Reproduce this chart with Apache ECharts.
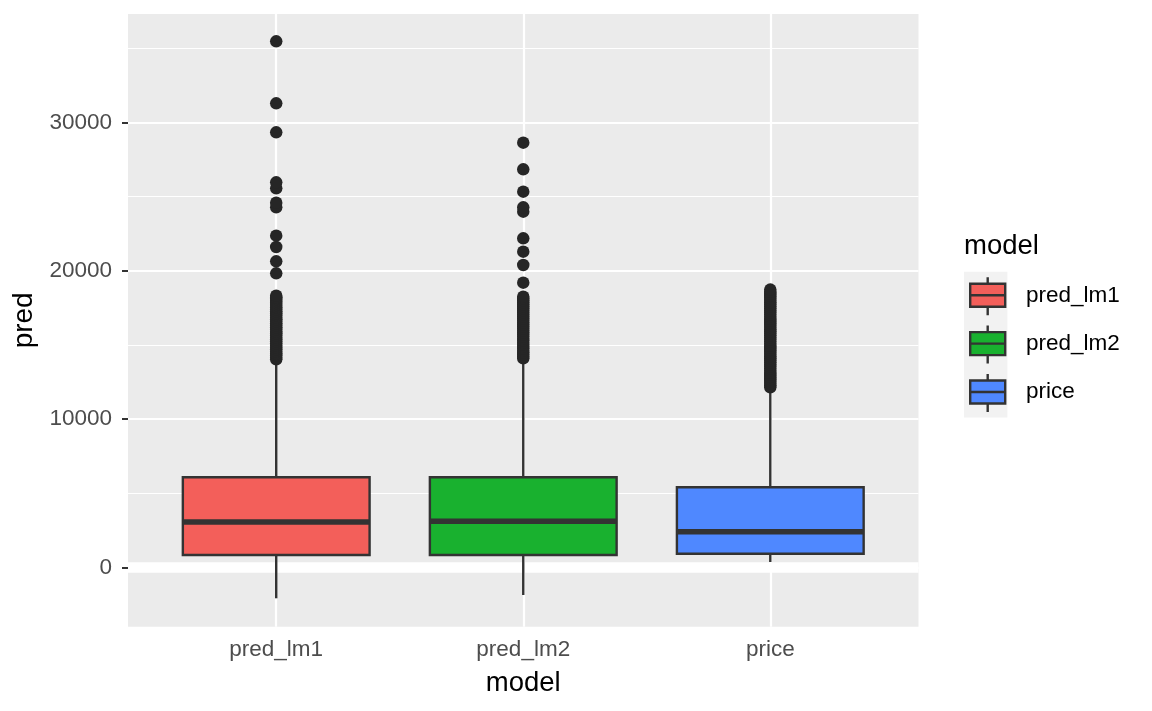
<!DOCTYPE html>
<html>
<head>
<meta charset="utf-8">
<script src="https://cdn.jsdelivr.net/npm/echarts@6/dist/echarts.min.js"></script>
<style>html,body{margin:0;padding:0;background:#fff}#c{width:1152px;height:711px}</style>
</head>
<body>
<div id="c"></div>
<script>
// ---------- data ----------
const categories = ['pred_lm1', 'pred_lm2', 'price'];
// [lower whisker, Q1, median, Q3, upper whisker]
const statsLm1 = [-2090, 829, 3055, 6069, 13900];
const statsLm2 = [-1868, 829, 3102, 6069, 13900];
const statsPrice = [357, 917, 2400, 5394, 12000];
const outLm1 = [14024, 14150, 14300, 14420, 14560, 14700, 14830, 14960, 15100, 15240, 15370, 15500,
  15650, 15780, 15900, 16050, 16180, 16320, 16450, 16590, 16720, 16850, 17000, 17130, 17260, 17400,
  17540, 17680, 17820, 17950, 18090, 18200, 18317, 19824, 20633, 21600, 22363, 24274, 24588, 25555,
  25960, 29332, 31287, 35467];
const outLm2 = [14092, 14220, 14350, 14480, 14610, 14750, 14880, 15010, 15150, 15290, 15420, 15560,
  15700, 15830, 15960, 16100, 16240, 16370, 16500, 16640, 16780, 16910, 17050, 17190, 17320, 17460,
  17600, 17730, 17870, 18000, 18130, 18249, 19194, 20385, 21284, 22183, 23982, 24274, 25330, 26836, 28634];
const outPrice = [12139, 12280, 12420, 12560, 12700, 12840, 12980, 13120, 13260, 13400, 13540, 13680,
  13820, 13960, 14100, 14240, 14380, 14520, 14660, 14800, 14940, 15080, 15220, 15360, 15500, 15640,
  15780, 15920, 16060, 16200, 16340, 16480, 16620, 16760, 16900, 17040, 17180, 17320, 17460, 17600,
  17740, 17880, 18020, 18160, 18300, 18440, 18580, 18727];
const yTicks = [0, 10000, 20000, 30000];
const yMinorTicks = [5000, 15000, 25000, 35000];
const yRange = [-4005, 37310];
const zeroBand = [-364, 337];

// ---------- styles ----------
const fills = ['#F35F5A', '#19B12F', '#4F88FF'];
const dark = '#333333';
const FONT = 'Liberation Sans, Arial, Helvetica, sans-serif';
const legendIcon = 'path://M17.5,0 L17.5,6.5 M0,6.5 L35,6.5 L35,29.5 L0,29.5 Z M0,18 L35,18 M17.5,29.5 L17.5,38';

function renderBox(params, api) {
  const x = api.value(0);
  const lo = api.coord([x, api.value(1)]);
  const q1 = api.coord([x, api.value(2)]);
  const md = api.coord([x, api.value(3)]);
  const q3 = api.coord([x, api.value(4)]);
  const hi = api.coord([x, api.value(5)]);
  const half = api.size([1, 0])[0] * 0.378;
  const color = api.visual('color');
  return {
    type: 'group',
    children: [
      {type: 'line', shape: {x1: lo[0], y1: lo[1], x2: q1[0], y2: q1[1]}, style: {stroke: dark, lineWidth: 2.4}},
      {type: 'line', shape: {x1: hi[0], y1: hi[1], x2: q3[0], y2: q3[1]}, style: {stroke: dark, lineWidth: 2.4}},
      {type: 'rect', shape: {x: q3[0] - half, y: q3[1], width: 2 * half, height: q1[1] - q3[1]},
        style: {fill: color, stroke: dark, lineWidth: 2.4}},
      {type: 'line', shape: {x1: md[0] - half, y1: md[1], x2: md[0] + half, y2: md[1]},
        style: {stroke: dark, lineWidth: 5.5}}
    ]
  };
}

const statsList = [statsLm1, statsLm2, statsPrice];
const outList = [outLm1, outLm2, outPrice];

const boxSeries = categories.map((c, i) => ({
  name: c,
  type: 'custom',
  coordinateSystem: 'cartesian2d',
  xAxisIndex: 1,
  yAxisIndex: 2,
  z: 10,
  dimensions: ['model', 'min', 'Q1', 'median', 'Q3', 'max'],
  encode: {x: 0, y: [1, 2, 3, 4, 5]},
  itemStyle: {color: fills[i], borderColor: dark, borderWidth: 2},
  renderItem: renderBox,
  data: [[c].concat(statsList[i])]
}));

const outlierData = [];
categories.forEach((c, i) => outList[i].forEach(v => outlierData.push([c, v])));

const legendData = categories.map((c, i) => ({
  name: c,
  icon: legendIcon,
  itemStyle: {color: fills[i], borderColor: dark, borderWidth: 2.4}
}));

const option = {
  animation: false,
  backgroundColor: '#ffffff',
  title: {
    text: 'model', left: 964, top: 232, padding: 0,
    textStyle: {fontFamily: FONT, fontSize: 27.5, fontWeight: 'normal', color: '#000'}
  },
  legend: [
    {
      orient: 'vertical', left: 964, top: 271.7, padding: [4.3, 1, 4.3, 5],
      itemWidth: 35, itemHeight: 38, itemGap: 8,
      backgroundColor: '#f2f2f2', selectedMode: false,
      formatter: () => '',
      data: legendData
    },
    {
      orient: 'vertical', left: 985, top: 276, padding: 0,
      itemWidth: 35, itemHeight: 38, itemGap: 8, selectedMode: false,
      textStyle: {fontFamily: FONT, fontSize: 22.5, color: '#000'},
      data: categories.map(c => ({name: c, icon: 'rect', itemStyle: {opacity: 0}}))
    }
  ],
  grid: [
    {left: 128, right: 233.5, top: 14, bottom: 84.3, show: true, backgroundColor: '#ebebeb', borderWidth: 0},
    {left: 152.7, right: 258.2, top: 14, bottom: 84.3}
  ],
  xAxis: [
    {type: 'value', gridIndex: 0, min: 0.4, max: 3.6, show: false},
    {
      type: 'category', gridIndex: 1, data: categories,
      axisLine: {show: false},
      axisTick: {show: true, alignWithLabel: true, length: 6, lineStyle: {color: dark, width: 2}},
      axisLabel: {margin: 12, fontFamily: FONT, fontSize: 22.5, color: '#4d4d4d'},
      splitLine: {show: false},
      name: 'model', nameLocation: 'middle', nameGap: 43,
      nameTextStyle: {fontFamily: FONT, fontSize: 27.5, color: '#000'}
    }
  ],
  yAxis: [
    {
      type: 'value', gridIndex: 0, min: yRange[0], max: yRange[1], splitNumber: 4,
      axisLine: {show: false},
      axisTick: {show: true, length: 6, lineStyle: {color: dark, width: 2}, customValues: yTicks},
      axisLabel: {margin: 16, fontFamily: FONT, fontSize: 22.5, color: '#4d4d4d', customValues: yTicks,
        formatter: v => (yTicks.indexOf(v) >= 0 ? String(v) : '')},
      splitLine: {show: true, lineStyle: {color: '#ffffff', width: 2}},
      name: 'pred', nameLocation: 'middle', nameGap: 78,
      nameTextStyle: {fontFamily: FONT, fontSize: 28, color: '#000'}
    },
    {
      type: 'value', gridIndex: 0, position: 'right', min: yRange[0], max: yRange[1], splitNumber: 8,
      axisLine: {show: false},
      axisTick: {show: false, customValues: yMinorTicks},
      axisLabel: {show: false, customValues: yMinorTicks},
      splitLine: {show: true, lineStyle: {color: '#ffffff', width: 1}}
    },
    {type: 'value', gridIndex: 1, min: yRange[0], max: yRange[1], show: false}
  ],
  series: [
    {
      type: 'line', xAxisIndex: 0, yAxisIndex: 0, z: 1, data: [],
      markLine: {
        z: 1, silent: true, symbol: ['none', 'none'], label: {show: false},
        lineStyle: {color: '#ffffff', width: 2.2, type: 'solid'},
        data: categories.map((c, i) => ({xAxis: i + 1}))
      },
      markArea: {
        z: 1, silent: true, itemStyle: {color: '#ffffff'},
        data: [[{yAxis: zeroBand[0]}, {yAxis: zeroBand[1]}]]
      }
    }
  ].concat(boxSeries).concat([
    {
      name: 'outliers', type: 'scatter', xAxisIndex: 1, yAxisIndex: 2, z: 11,
      symbol: 'circle', symbolSize: 12.5,
      itemStyle: {color: '#262626', opacity: 1},
      data: outlierData
    }
  ])
};

const chart = echarts.init(document.getElementById('c'), null, {renderer: 'canvas'});
chart.setOption(option);
</script>
</body>
</html>
